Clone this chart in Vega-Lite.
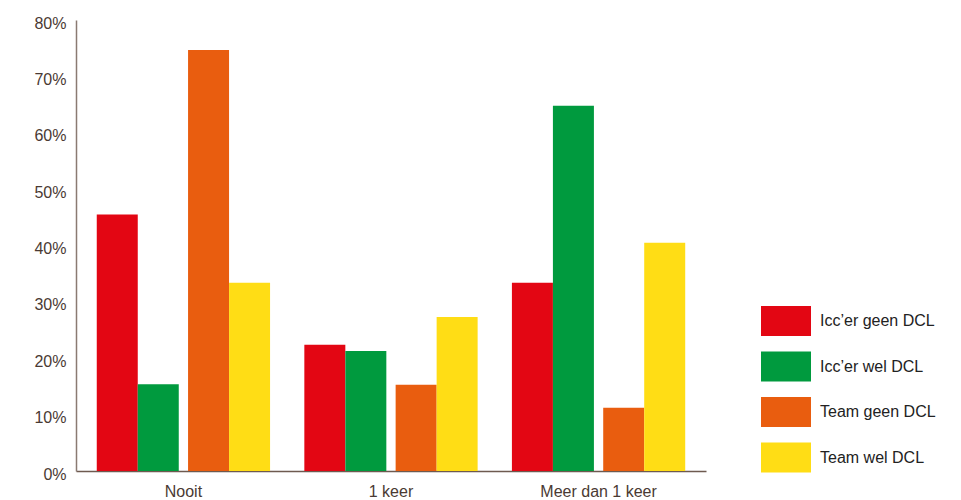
{
  "$schema": "https://vega.github.io/schema/vega-lite/v6.json",
  "autosize": "none",
  "width": 630,
  "height": 451,
  "padding": {"left": 76, "top": 20, "right": 255, "bottom": 29},
  "background": "white",
  "config": {
    "font": "Liberation Sans",
    "view": {"stroke": null}
  },
  "data": {
    "values": [
      {"cat": "Nooit", "series": "Icc’er geen DCL", "group": "Icc", "value": 45.5},
      {"cat": "Nooit", "series": "Icc’er wel DCL", "group": "Icc", "value": 15.4},
      {"cat": "Nooit", "series": "Team geen DCL", "group": "Team", "value": 74.7},
      {"cat": "Nooit", "series": "Team wel DCL", "group": "Team", "value": 33.4},
      {"cat": "1 keer", "series": "Icc’er geen DCL", "group": "Icc", "value": 22.4},
      {"cat": "1 keer", "series": "Icc’er wel DCL", "group": "Icc", "value": 21.3},
      {"cat": "1 keer", "series": "Team geen DCL", "group": "Team", "value": 15.3},
      {"cat": "1 keer", "series": "Team wel DCL", "group": "Team", "value": 27.3},
      {"cat": "Meer dan 1 keer", "series": "Icc’er geen DCL", "group": "Icc", "value": 33.4},
      {"cat": "Meer dan 1 keer", "series": "Icc’er wel DCL", "group": "Icc", "value": 64.8},
      {"cat": "Meer dan 1 keer", "series": "Team geen DCL", "group": "Team", "value": 11.2},
      {"cat": "Meer dan 1 keer", "series": "Team wel DCL", "group": "Team", "value": 40.5}
    ]
  },
  "encoding": {
    "x": {
      "field": "cat", "type": "nominal", "sort": ["Nooit", "1 keer", "Meer dan 1 keer"],
      "scale": {"paddingInner": 0.165, "paddingOuter": 0.1},
      "axis": {"title": null, "labelAngle": 0, "ticks": false, "domainColor": "#6e5a50", "domainWidth": 1.5, "labelColor": "#4a3a33", "labelFontSize": 16, "labelPadding": 12}
    },
    "y": {
      "field": "value", "type": "quantitative",
      "scale": {"domain": [0, 80], "nice": false},
      "axis": {"title": null, "values": [0,10,20,30,40,50,60,70,80], "grid": false, "ticks": false, "domainColor": "#8a7a72", "domainWidth": 1.5, "labelColor": "#4a3a33", "labelFontSize": 16, "labelPadding": 10, "labelOffset": 3, "labelExpr": "datum.value + '%'"}
    },
    "color": {
      "field": "series", "type": "nominal",
      "scale": {"domain": ["Icc’er geen DCL", "Icc’er wel DCL", "Team geen DCL", "Team wel DCL"], "range": ["#E30613", "#009A3E", "#E95D0F", "#FFDD15"]},
      "legend": {"title": null, "orient": "none", "legendX": 685, "legendY": 276, "padding": 0, "symbolType": "M-1,-0.6H1V0.6H-1Z", "symbolSize": 2500, "symbolOpacity": 1, "symbolStrokeWidth": 0, "labelFontSize": 16, "labelColor": "#222222", "labelOffset": 9, "rowPadding": 5.5, "labelLimit": 200}
    }
  },
  "layer": [
    {
      "transform": [{"filter": "datum.group == 'Icc'"}],
      "mark": {"type": "bar"},
      "encoding": {
        "xOffset": {"field": "series", "type": "nominal", "scale": {"domain": ["Icc’er geen DCL", "Icc’er wel DCL"], "range": [0, 82], "paddingInner": 0, "paddingOuter": 0}}
      }
    },
    {
      "transform": [{"filter": "datum.group == 'Team'"}],
      "mark": {"type": "bar"},
      "encoding": {
        "xOffset": {"field": "series", "type": "nominal", "scale": {"domain": ["Team geen DCL", "Team wel DCL"], "range": [91.3, 173.3], "paddingInner": 0, "paddingOuter": 0}}
      }
    }
  ],
  "resolve": {"scale": {"xOffset": "independent"}}
}
